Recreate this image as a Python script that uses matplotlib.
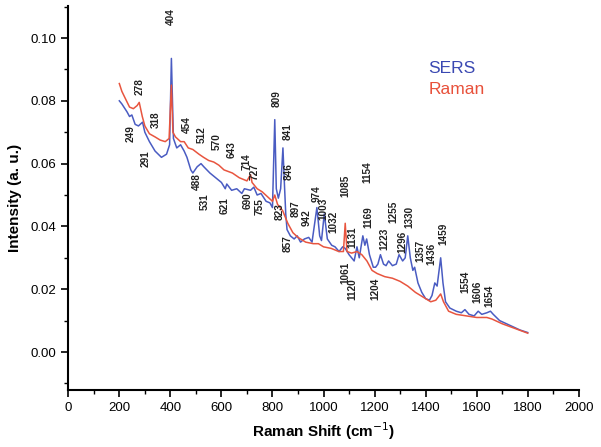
import numpy as np
import matplotlib
matplotlib.use('Agg')
import matplotlib.pyplot as plt
from matplotlib.ticker import MultipleLocator, FormatStrFormatter

plt.rcParams['font.family'] = ['Liberation Sans', 'DejaVu Sans']

# SERS spectrum (blue)
sers_shift = [200, 210, 230, 240, 249, 262, 275, 291, 300, 318, 340, 365, 385, 397, 404, 412,
              425, 440, 454, 465, 480, 488, 505, 520, 531, 555, 570, 600, 615, 621, 640, 660,
              680, 690, 714, 727, 740, 755, 775, 790, 800, 809, 815, 823, 832, 841, 846, 852,
              857, 870, 885, 897, 910, 925, 942, 955, 974, 985, 992, 1003, 1015, 1032, 1045,
              1061, 1075, 1085, 1100, 1120, 1131, 1140, 1154, 1162, 1169, 1180, 1195, 1204,
              1213, 1223, 1235, 1245, 1255, 1270, 1285, 1296, 1310, 1320, 1330, 1340, 1350,
              1357, 1370, 1385, 1400, 1415, 1425, 1436, 1445, 1459, 1468, 1478, 1495, 1520,
              1540, 1554, 1570, 1590, 1606, 1620, 1640, 1654, 1665, 1690, 1730, 1770, 1800]
sers_int = [0.0800, 0.0790, 0.0765, 0.0750, 0.0755, 0.0725, 0.0720, 0.0732, 0.0700, 0.0670,
            0.0640, 0.0620, 0.0630, 0.0660, 0.0935, 0.0680, 0.0650, 0.0660, 0.0640, 0.0620,
            0.0580, 0.0570, 0.0590, 0.0600, 0.0590, 0.0570, 0.0560, 0.0540, 0.0520, 0.0535,
            0.0515, 0.0520, 0.0505, 0.0520, 0.0515, 0.0525, 0.0500, 0.0505, 0.0480, 0.0475,
            0.0460, 0.0740, 0.0520, 0.0490, 0.0520, 0.0650, 0.0550, 0.0440, 0.0390, 0.0370,
            0.0360, 0.0370, 0.0350, 0.0360, 0.0365, 0.0350, 0.0460, 0.0370, 0.0355, 0.0440,
            0.0360, 0.0340, 0.0335, 0.0320, 0.0335, 0.0330, 0.0310, 0.0290, 0.0335, 0.0300,
            0.0370, 0.0340, 0.0360, 0.0310, 0.0270, 0.0270, 0.0280, 0.0310, 0.0280, 0.0275,
            0.0290, 0.0275, 0.0280, 0.0310, 0.0290, 0.0300, 0.0370, 0.0300, 0.0260, 0.0270,
            0.0220, 0.0190, 0.0170, 0.0165, 0.0180, 0.0220, 0.0210, 0.0300, 0.0220, 0.0160,
            0.0140, 0.0130, 0.0125, 0.0135, 0.0120, 0.0115, 0.0130, 0.0120, 0.0125, 0.0130,
            0.0120, 0.0100, 0.0085, 0.0070, 0.0062]

# Normal Raman spectrum (red)
raman_shift = [200, 210, 225, 240, 255, 270, 278, 290, 300, 318, 340, 360, 380, 395, 404, 410,
               420, 440, 454, 470, 488, 512, 530, 550, 570, 590, 610, 643, 670, 700, 714, 720,
               740, 760, 780, 800, 809, 820, 840, 860, 880, 900, 930, 960, 980, 1000, 1030,
               1060, 1078, 1085, 1092, 1110, 1131, 1150, 1170, 1190, 1210, 1240, 1270, 1300,
               1330, 1360, 1390, 1420, 1440, 1459, 1470, 1490, 1520, 1560, 1600, 1640, 1660,
               1700, 1750, 1800]
raman_int = [0.0855, 0.0830, 0.0805, 0.0780, 0.0775, 0.0785, 0.0795, 0.0750, 0.0720, 0.0695,
             0.0685, 0.0675, 0.0670, 0.0680, 0.0850, 0.0700, 0.0685, 0.0670, 0.0670, 0.0650,
             0.0645, 0.0630, 0.0620, 0.0610, 0.0605, 0.0595, 0.0580, 0.0570, 0.0555, 0.0545,
             0.0565, 0.0540, 0.0520, 0.0510, 0.0495, 0.0480, 0.0500, 0.0470, 0.0450, 0.0410,
             0.0380, 0.0365, 0.0350, 0.0345, 0.0345, 0.0335, 0.0330, 0.0320, 0.0320, 0.0410,
             0.0320, 0.0315, 0.0320, 0.0310, 0.0290, 0.0260, 0.0250, 0.0240, 0.0235, 0.0225,
             0.0210, 0.0190, 0.0175, 0.0160, 0.0165, 0.0185, 0.0160, 0.0130, 0.0120, 0.0115,
             0.0110, 0.0110, 0.0105, 0.0090, 0.0075, 0.0060]

# peak labels
peak_labels = ['404', '278', '249', '318', '291', '454', '512', '570', '643', '714', '727',
               '488', '531', '621', '690', '755', '823', '809', '841', '846', '857', '897',
               '942', '974', '1003', '1032', '1085', '1154', '1169', '1131', '1061', '1120',
               '1204', '1223', '1255', '1296', '1330', '1357', '1436', '1459', '1554', '1606',
               '1654']
# where each label sits (x centre, y anchor) and whether it hangs below that point
label_x = [402, 281, 246, 344, 304, 464, 523, 582, 641, 697, 731,
           504, 536, 614, 704, 751, 829, 817, 861, 864, 861, 891,
           933, 974, 998, 1038, 1084, 1170, 1174, 1115, 1084, 1115,
           1205, 1240, 1272, 1309, 1335, 1378, 1421, 1468, 1554, 1601,
           1648]
label_y = [0.1041, 0.0818, 0.0669, 0.0715, 0.0643, 0.0697, 0.0666, 0.0643, 0.0618, 0.0580, 0.0548,
           0.0570, 0.0506, 0.0494, 0.0510, 0.0490, 0.0475, 0.0780, 0.0675, 0.0548, 0.0373, 0.0430,
           0.0400, 0.0478, 0.0420, 0.0378, 0.0494, 0.0538, 0.0395, 0.0331, 0.0287, 0.0236,
           0.0236, 0.0325, 0.0411, 0.0315, 0.0395, 0.0287, 0.0277, 0.0341, 0.0188, 0.0156,
           0.0143]
below = ['291', '488', '531', '621', '690', '755', '823', '857', '1061', '1120', '1204']

blue = '#4a5cc2'
red = '#e8553f'

fig = plt.figure(figsize=(6.01, 4.47), dpi=100)
ax = fig.add_axes([0.1136, 0.1275, 0.8494, 0.8591])

ax.plot(sers_shift, sers_int, color=blue, lw=1.1)
ax.plot(raman_shift, raman_int, color=red, lw=1.1)

for lab, lx, ly in zip(peak_labels, label_x, label_y):
    va = 'top' if lab in below else 'bottom'
    ax.text(lx, ly, lab, rotation=90, ha='center', va=va, fontsize=7.2,
            fontweight='bold', color='#222222')

ax.text(0.705, 0.825, 'SERS', transform=ax.transAxes, color='#3a48b2', fontsize=12.5)
ax.text(0.705, 0.770, 'Raman', transform=ax.transAxes, color='#e8503a', fontsize=12.5)

ax.set_xlim(0, 2000)
ax.set_ylim(-0.0121, 0.1102)
ax.xaxis.set_major_locator(MultipleLocator(200))
ax.xaxis.set_minor_locator(MultipleLocator(100))
ax.yaxis.set_major_locator(MultipleLocator(0.02))
ax.yaxis.set_minor_locator(MultipleLocator(0.01))
ax.yaxis.set_major_formatter(FormatStrFormatter('%.2f'))
ax.set_yticks([0.0, 0.02, 0.04, 0.06, 0.08, 0.10])
ax.tick_params(which='major', direction='out', length=5, width=1.2, labelsize=9.5)
ax.tick_params(which='minor', direction='out', length=3, width=1.0)

for s in ['top', 'right']:
    ax.spines[s].set_visible(False)
for s in ['left', 'bottom']:
    ax.spines[s].set_linewidth(1.5)

ax.set_xlabel('Raman Shift (cm$^{-1}$)', fontsize=11, fontweight='bold', labelpad=5)
ax.set_ylabel('Intensity (a. u.)', fontsize=11, fontweight='bold', labelpad=6)

plt.savefig('out.png', dpi=100)
